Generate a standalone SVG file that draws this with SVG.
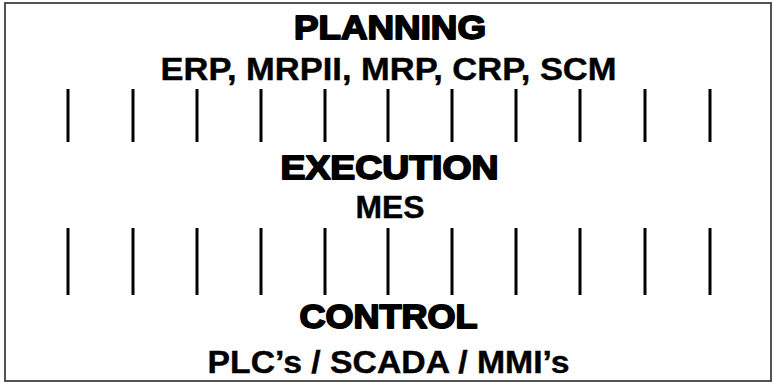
<svg xmlns="http://www.w3.org/2000/svg" width="775" height="384" viewBox="0 0 775 384">
  <style>
    .frame { fill: #ffffff; stroke: #2a2a2a; stroke-width: 1.6; }
    .head { font-family: "Liberation Sans", Arial, sans-serif; font-weight: bold; fill: #000; stroke: #000; stroke-width: 1.8; stroke-linejoin: round; text-anchor: middle; }
    .sub { font-family: "Liberation Sans", Arial, sans-serif; font-weight: bold; fill: #000; stroke: #000; stroke-width: 0.4; text-anchor: middle; }
    .link { stroke: #000; stroke-width: 3; }
  </style>

  <!-- outer frame -->
  <rect class="frame" x="5" y="3" width="766" height="378"/>

  <!-- tier: planning -->
  <g id="planning">
    <text class="head" x="390" y="39.2" font-size="33.5" textLength="192" lengthAdjust="spacingAndGlyphs">PLANNING</text>
    <text class="sub" x="388.5" y="80" font-size="31" textLength="456" lengthAdjust="spacingAndGlyphs">ERP, MRPII, MRP, CRP, SCM</text>
  </g>

  <!-- tier: execution -->
  <g id="execution">
    <text class="head" x="389.5" y="179.2" font-size="33.5" textLength="218" lengthAdjust="spacingAndGlyphs">EXECUTION</text>
    <text class="sub" x="390" y="218" font-size="30.5" textLength="69" lengthAdjust="spacingAndGlyphs">MES</text>
  </g>

  <!-- tier: control -->
  <g id="control">
    <text class="head" x="388.5" y="328" font-size="33.5" textLength="178" lengthAdjust="spacingAndGlyphs">CONTROL</text>
    <text class="sub" x="388.5" y="373" font-size="31" textLength="362" lengthAdjust="spacingAndGlyphs">PLC’s / SCADA / MMI’s</text>
  </g>

  <!-- vertical links between tiers -->
  <g id="connectors" class="link">
    <line x1="68" y1="89" x2="68" y2="142"/>
    <line x1="133" y1="89" x2="133" y2="142"/>
    <line x1="197" y1="89" x2="197" y2="142"/>
    <line x1="261" y1="89" x2="261" y2="142"/>
    <line x1="325" y1="89" x2="325" y2="142"/>
    <line x1="388" y1="89" x2="388" y2="142"/>
    <line x1="452" y1="89" x2="452" y2="142"/>
    <line x1="516" y1="89" x2="516" y2="142"/>
    <line x1="580" y1="89" x2="580" y2="142"/>
    <line x1="645" y1="89" x2="645" y2="142"/>
    <line x1="710" y1="89" x2="710" y2="142"/>

    <line x1="68" y1="228" x2="68" y2="295"/>
    <line x1="133" y1="228" x2="133" y2="295"/>
    <line x1="197" y1="228" x2="197" y2="295"/>
    <line x1="261" y1="228" x2="261" y2="295"/>
    <line x1="325" y1="228" x2="325" y2="295"/>
    <line x1="388" y1="228" x2="388" y2="295"/>
    <line x1="452" y1="228" x2="452" y2="295"/>
    <line x1="516" y1="228" x2="516" y2="295"/>
    <line x1="580" y1="228" x2="580" y2="295"/>
    <line x1="645" y1="228" x2="645" y2="295"/>
    <line x1="710" y1="228" x2="710" y2="295"/>
  </g>
</svg>
